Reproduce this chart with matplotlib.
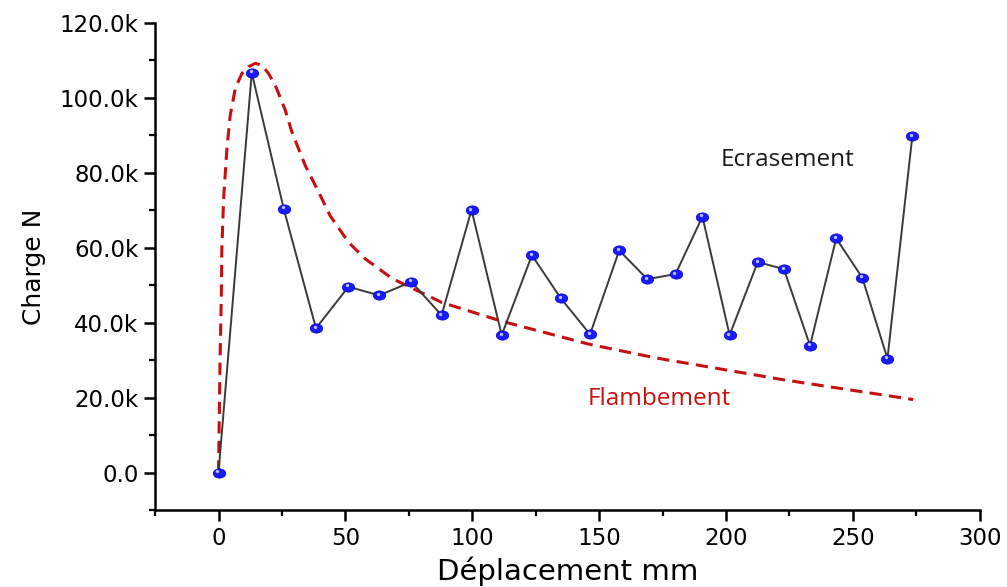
import matplotlib

matplotlib.use("Agg")
import matplotlib.pyplot as plt
from matplotlib.markers import MarkerStyle
from matplotlib.path import Path
from matplotlib.ticker import FuncFormatter, MultipleLocator
from matplotlib.transforms import Affine2D, offset_copy

# measured load vs displacement (crushing test)
depl = [0, 13.1, 25.7, 38.4, 51.2, 63.3, 76.0, 87.9, 99.7, 111.6, 123.5, 134.9,
        146.4, 157.9, 169.0, 180.1, 190.7, 201.4, 212.5, 222.8, 233.1, 243.4,
        253.7, 263.6, 273.4]
charge = [0, 106700, 70400, 38500, 49600, 47300, 50900, 42000, 70100, 36700,
          58000, 46500, 36900, 59300, 51600, 53000, 68300, 36700, 56200, 54300,
          33900, 62500, 52000, 30400, 89700]

# buckling curve
flamb_x = [0, 0.3, 0.6, 1.1, 1.3, 2.0, 3.3, 4.6, 6.6, 9.2, 11.8, 14.5, 17.1,
           19.7, 22.4, 26.3, 28.9, 34.2, 39.5, 44.0, 51.3, 57.9, 68.4, 88.0,
           111.6, 146.4, 172.4, 222.4, 273.7]
flamb_y = [0, 15000, 30000, 47100, 59600, 73000, 86400, 95300, 102500, 106500,
           108300, 109200, 108700, 106500, 103300, 96700, 90900, 81900, 74800,
           68500, 61400, 57000, 51800, 45400, 40400, 34200, 30600, 24800, 19500]

RED = "#c80f0f"

fig = plt.figure(figsize=(10.07, 5.87), dpi=100)
ax = fig.add_axes([0.154, 0.131, 0.819, 0.830])

ax.plot(flamb_x, flamb_y, color=RED, lw=2.2, linestyle=(0, (4.0, 2.4)),
        zorder=2)

# slightly flattened ball markers
ellipse = Path.unit_circle().transformed(Affine2D().scale(1.35, 1.0))
ax.plot(depl, charge, color="#3a3a3a", lw=1.4, zorder=3)
ax.plot(depl, charge, linestyle="none", marker=MarkerStyle(ellipse), ms=9,
        mfc="#1a1aff", mec="#0000d0", mew=0.5, zorder=4)
hl = offset_copy(ax.transData, fig=fig, x=-0.8, y=1.0, units="points")
ax.plot(depl, charge, linestyle="none", marker="o", ms=2.4, mfc="#b8c4ff",
        mec="none", transform=hl, zorder=5)

ax.text(224.2, 83300, "Ecrasement", color="#1a1a1a", fontsize=17.5,
        family="Open Sans", ha="center", va="center")
ax.text(173.7, 19600, "Flambement", color=RED, fontsize=17.5,
        family="Open Sans", ha="center", va="center")

ax.set_xlim(-25, 300)
ax.set_ylim(-10000, 120000)
ax.xaxis.set_major_locator(MultipleLocator(50))
ax.xaxis.set_minor_locator(MultipleLocator(25))
ax.yaxis.set_major_locator(MultipleLocator(20000))
ax.yaxis.set_minor_locator(MultipleLocator(10000))
ax.yaxis.set_major_formatter(FuncFormatter(
    lambda v, _: "0.0" if abs(v) < 1 else f"{v / 1000:.1f}k"))

for s in ("top", "right"):
    ax.spines[s].set_visible(False)
for s in ("left", "bottom"):
    ax.spines[s].set_linewidth(1.8)
ax.tick_params(which="major", direction="out", length=8, width=1.8,
               labelsize=16.5, pad=4)
ax.tick_params(which="minor", direction="out", length=4, width=1.6)

ax.set_xlabel("Déplacement mm", fontsize=21, labelpad=5)
ax.set_ylabel("Charge N", fontsize=18, labelpad=10)

fig.savefig("out.png", dpi=100)
